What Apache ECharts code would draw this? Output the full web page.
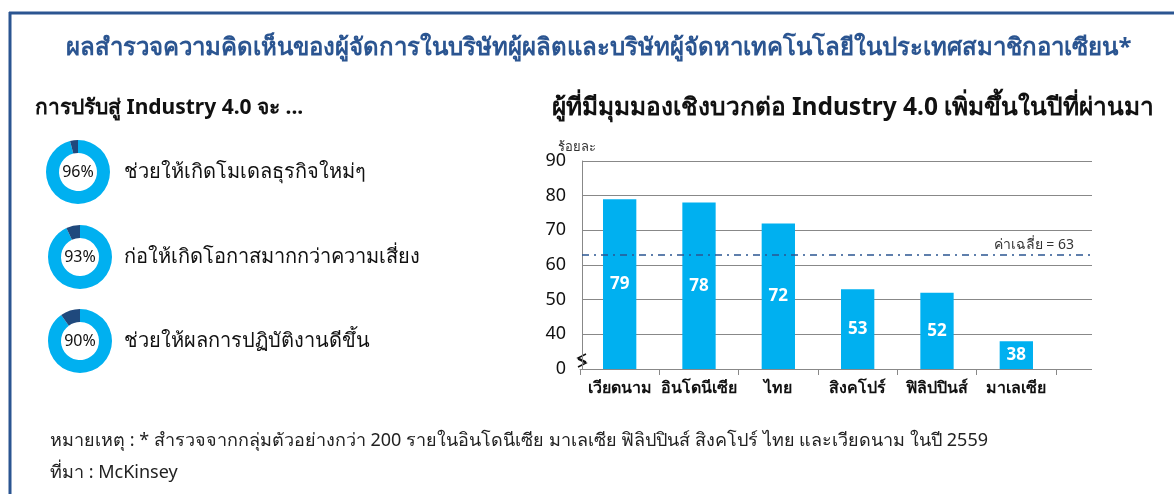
<!DOCTYPE html>
<html>
<head>
<meta charset="utf-8">
<script src="https://cdn.jsdelivr.net/npm/echarts@6/dist/echarts.min.js"></script>
<style>
  html, body { margin: 0; padding: 0; background: #fff; }
  #show { width: 1174px; height: 494px; }
</style>
</head>
<body>
<div id="show"></div>
<script>
var myChart = echarts.init(document.getElementById("show"));

// donut data (per cent of managers)
var donutValues = [96, 93, 90];
var donutTexts = [
    "ช่วยให้เกิดโมเดลธุรกิจใหม่ๆ",
    "ก่อให้เกิดโอกาสมากกว่าความเสี่ยง",
    "ช่วยให้ผลการปฏิบัติงานดีขึ้น"
];

// bar chart data
var countries = ["เวียดนาม", "อินโดนีเซีย", "ไทย", "สิงคโปร์", "ฟิลิปปินส์", "มาเลเซีย"];
var positive = [79, 78, 72, 53, 52, 38];
var average = 63;
var yTicks = [30, 40, 50, 60, 70, 80, 90]; // 30 is shown as 0 (broken axis)

var font = 'Tahoma, "Noto Sans", sans-serif';
var navy = '#2b5591';

var donutCenters = [[78, 172], [80, 257], [80, 341]];

var series = [];
var titles = [
    {
        text: "ผลสำรวจความคิดเห็นของผู้จัดการในบริษัทผู้ผลิตและบริษัทผู้จัดหาเทคโนโลยีในประเทศสมาชิกอาเซียน*",
        left: 594, top: 31, textAlign: 'center',
        textStyle: { color: navy, fontSize: 24, fontWeight: 'bold', fontFamily: font }
    },
    {
        text: "การปรับสู่ Industry 4.0 จะ ...",
        left: 30, top: 93,
        textStyle: { color: '#111', fontSize: 21, fontWeight: 'bold', fontFamily: font }
    },
    {
        text: "ผู้ที่มีมุมมองเชิงบวกต่อ Industry 4.0 เพิ่มขึ้นในปีที่ผ่านมา",
        left: 848, top: 91, textAlign: 'center',
        textStyle: { color: '#111', fontSize: 24.5, fontWeight: 'bold', fontFamily: font }
    },
    {
        text: "ร้อยละ",
        left: 553, top: 136,
        textStyle: { color: '#333', fontSize: 13, fontWeight: 'normal', fontFamily: font }
    },
    {
        text: "หมายเหตุ : * สำรวจจากกลุ่มตัวอย่างกว่า 200 รายในอินโดนีเซีย มาเลเซีย ฟิลิปปินส์ สิงคโปร์ ไทย และเวียดนาม ในปี 2559",
        left: 45, top: 427,
        textStyle: { color: '#222', fontSize: 18, fontWeight: 'normal', fontFamily: font }
    },
    {
        text: "ที่มา : McKinsey",
        left: 45, top: 459,
        textStyle: { color: '#222', fontSize: 18, fontWeight: 'normal', fontFamily: font }
    }
];

donutValues.forEach(function (v, i) {
    series.push({
        type: 'pie',
        radius: [19, 32],
        center: donutCenters[i],
        startAngle: 90,
        silent: true,
        label: { show: false },
        labelLine: { show: false },
        data: [
            {
                value: v,
                itemStyle: { color: '#00b0f0' },
                label: {
                    show: true, position: 'center', formatter: v + '%',
                    color: '#111', fontSize: 16, fontFamily: font
                }
            },
            { value: 100 - v, itemStyle: { color: '#1f497d' } }
        ]
    });
    titles.push({
        text: donutTexts[i],
        left: 119, top: donutCenters[i][1] - 15,
        textStyle: { color: '#111', fontSize: 20, fontWeight: 'normal', fontFamily: font }
    });
});

// grid 0 : gridlines + average line, grid 1 : bars
series.push({
    type: 'line',
    xAxisIndex: 0, yAxisIndex: 0,
    data: [null],
    silent: true,
    markLine: {
        symbol: 'none',
        silent: true,
        lineStyle: { color: navy, type: [7, 5, 2, 5], width: 1.5 },
        label: {
            position: 'insideEndTop',
            formatter: 'ค่าเฉลี่ย = ' + average,
            color: '#333', fontSize: 14, fontFamily: font,
            distance: [18, 3]
        },
        data: [{ yAxis: average }]
    }
});

series.push({
    type: 'bar',
    xAxisIndex: 1, yAxisIndex: 1,
    data: positive,
    barWidth: '42%',
    itemStyle: { color: '#00b0f0' },
    label: {
        show: true, position: 'inside',
        color: '#fff', fontSize: 17, fontWeight: 'bold', fontFamily: font
    }
});

myChart.setOption(option = {
    animation: false,
    title: titles,
    grid: [
        { left: 582, top: 161, width: 510, height: 208 },
        { left: 580, top: 161, width: 476, height: 208 }
    ],
    xAxis: [
        { type: 'category', gridIndex: 0, data: [''], show: false },
        {
            type: 'category', gridIndex: 1, data: countries,
            axisLine: { lineStyle: { color: '#888' } },
            axisTick: { show: true, length: 6, lineStyle: { color: '#888' } },
            axisLabel: { interval: 0, color: '#111', fontSize: 16, fontWeight: 'bold', fontFamily: font, margin: 11 }
        }
    ],
    yAxis: [
        {
            type: 'value', gridIndex: 0, min: yTicks[0], max: yTicks[yTicks.length - 1], interval: 10,
            axisLine: { show: true, lineStyle: { color: '#888' } },
            axisTick: { show: false },
            splitLine: { lineStyle: { color: '#888', width: 1 } },
            axisLabel: {
                color: '#111', fontSize: 18, fontFamily: font, margin: 16,
                formatter: function (v) { return v === yTicks[0] ? '0' : v; }
            }
        },
        {
            type: 'value', gridIndex: 1, min: yTicks[0], max: yTicks[yTicks.length - 1], interval: 10,
            show: false, splitLine: { show: false }
        }
    ],
    graphic: [
        { type: 'line', shape: { x1: 9, y1: 13, x2: 1174, y2: 13 }, style: { stroke: navy, lineWidth: 3 } },
        { type: 'line', shape: { x1: 10, y1: 12, x2: 10, y2: 494 }, style: { stroke: navy, lineWidth: 3 } },
        { type: 'polyline', shape: { points: [[586, 354], [578, 358], [586, 362]] }, style: { stroke: '#fff', lineWidth: 5, fill: null } },
        { type: 'polyline', shape: { points: [[586, 354], [578, 358], [586, 362]] }, style: { stroke: '#111', lineWidth: 1.5, fill: null } },
        { type: 'polyline', shape: { points: [[578, 359], [586, 363], [578, 367]] }, style: { stroke: '#111', lineWidth: 1.5, fill: null } }
    ],
    series: series
});
</script>
</body>
</html>
